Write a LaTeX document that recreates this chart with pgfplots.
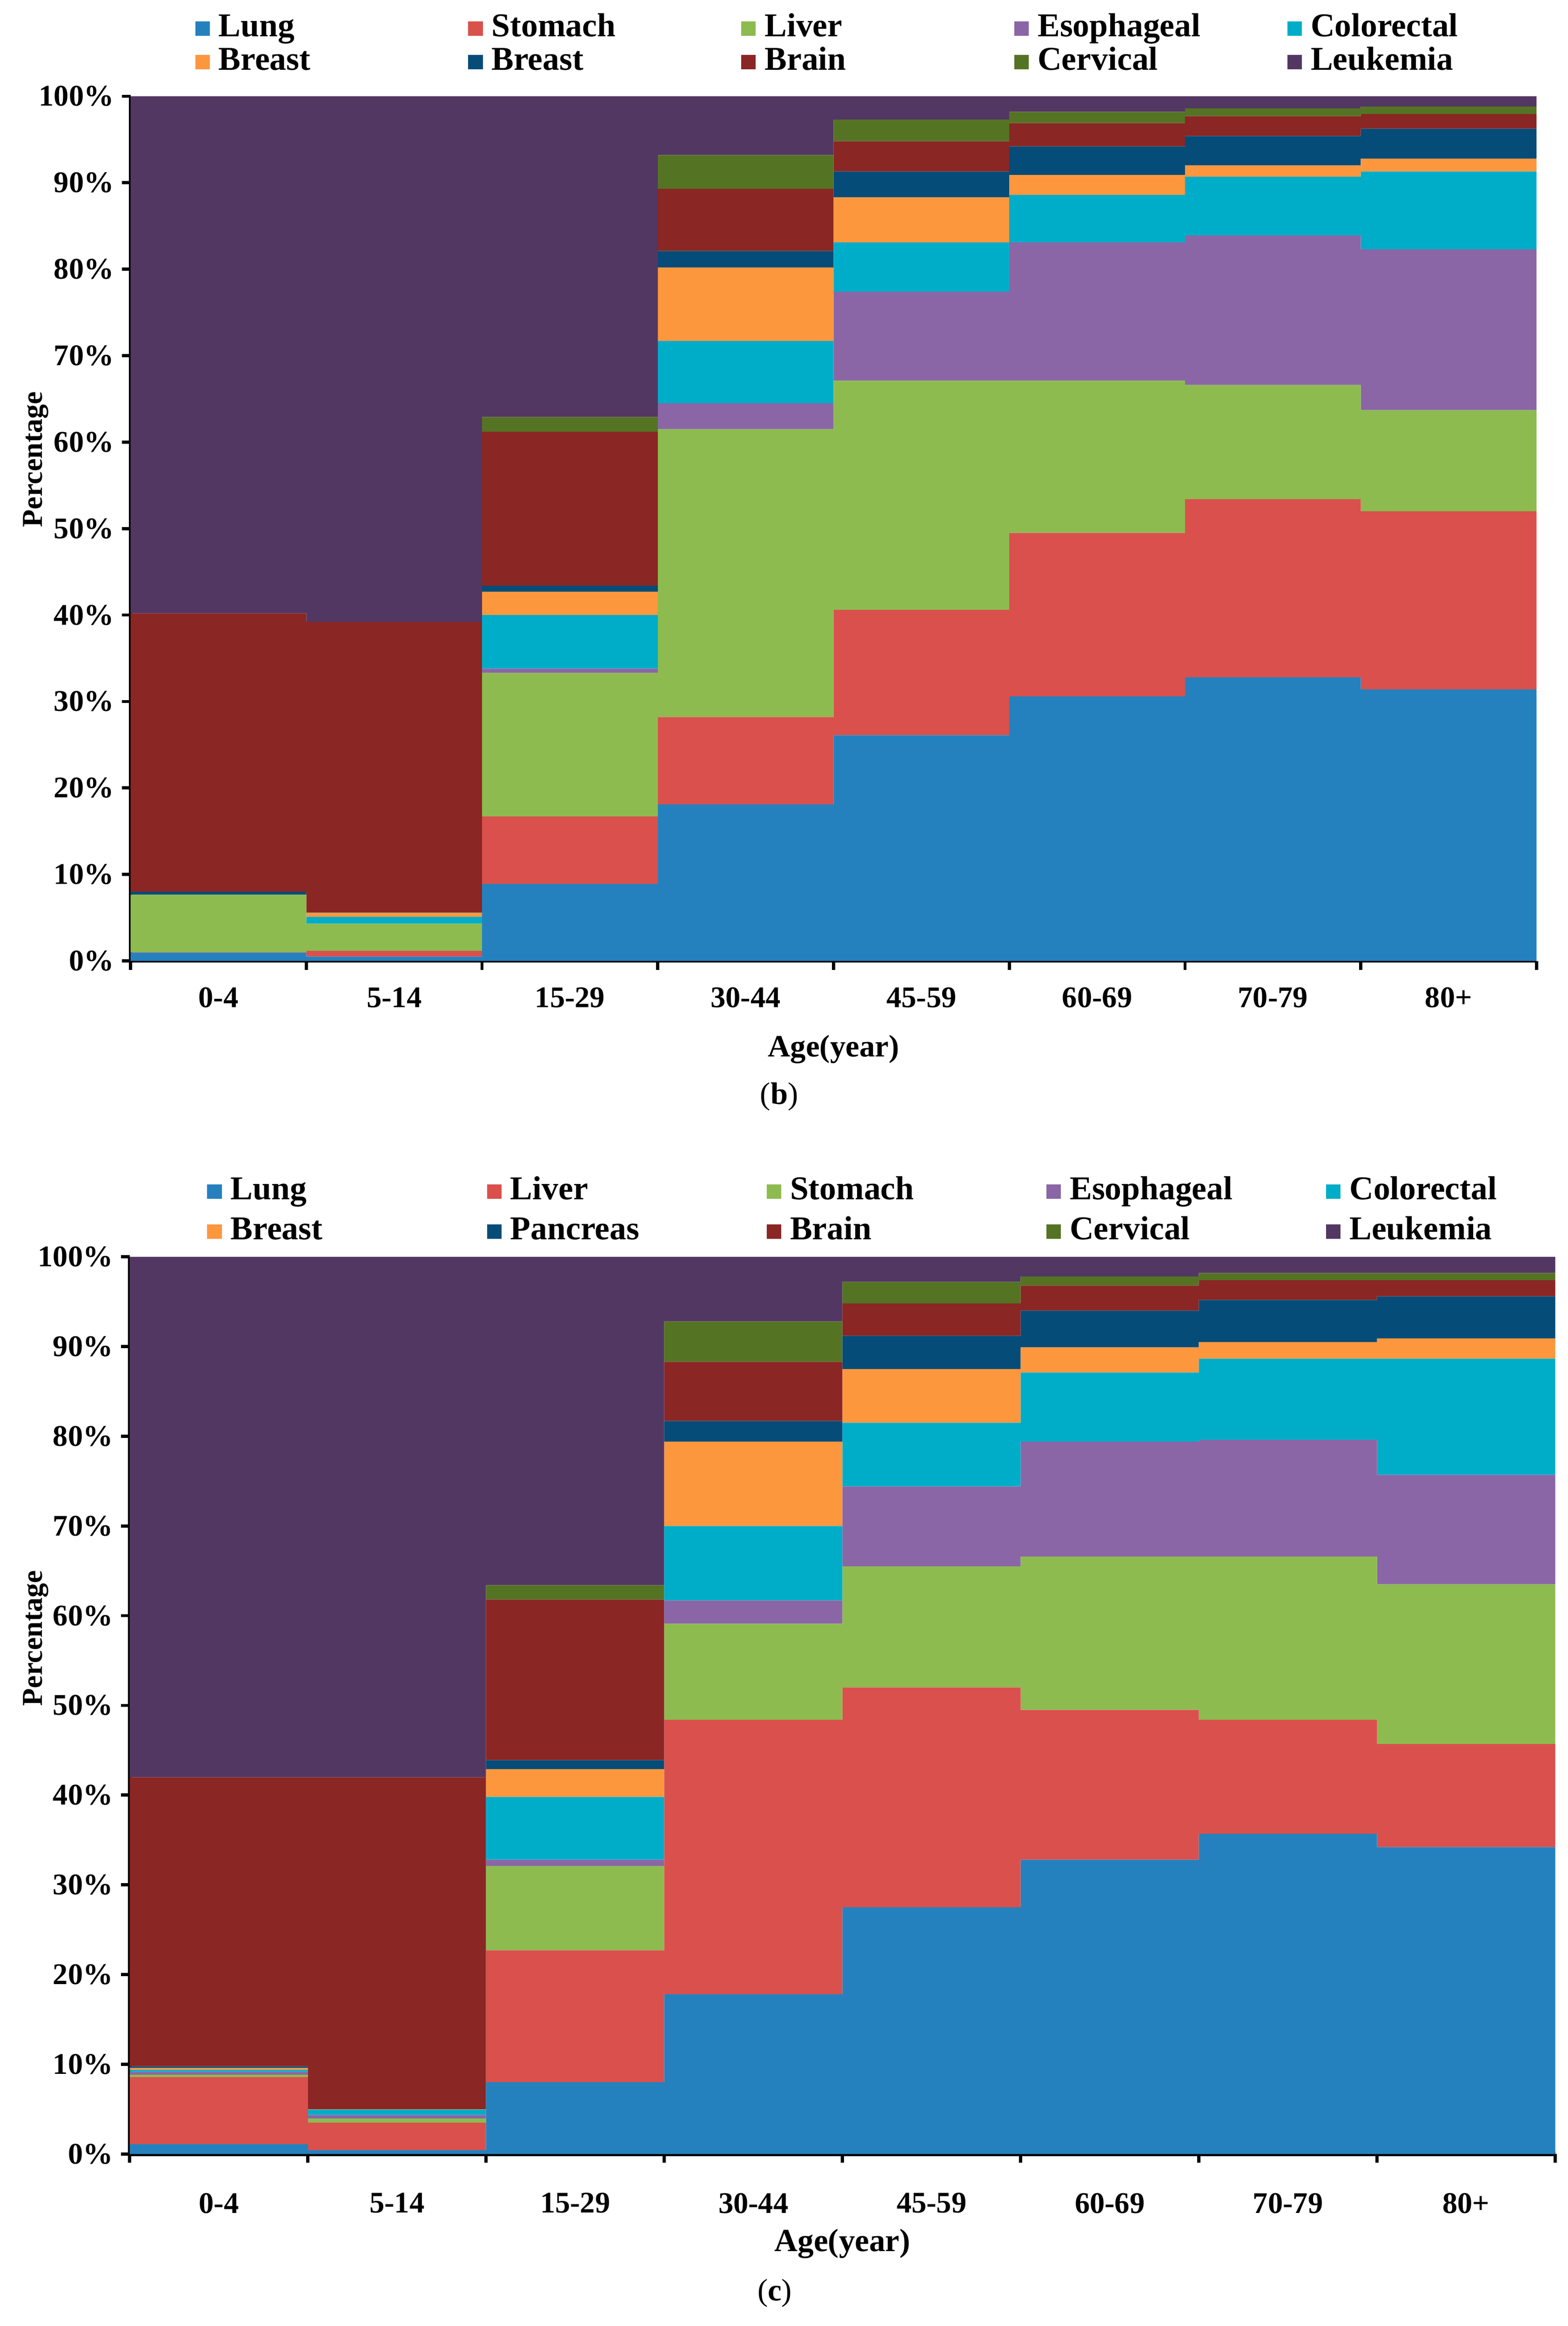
\documentclass[border=0pt]{standalone}
\usepackage{pgfplots}
\pgfplotsset{compat=1.18}
\usepackage{pgfplotstable}
\usepackage{fontspec}
\setmainfont{Liberation Serif}

\definecolor{cLung}{HTML}{2581BE}
\definecolor{cStom}{HTML}{DA504C}
\definecolor{cLiver}{HTML}{8DBB50}
\definecolor{cEso}{HTML}{8A66A6}
\definecolor{cCol}{HTML}{00ADC8}
\definecolor{cBre}{HTML}{FD973E}
\definecolor{cPan}{HTML}{064C78}
\definecolor{cBrain}{HTML}{8A2624}
\definecolor{cCer}{HTML}{547424}
\definecolor{cLeu}{HTML}{533763}

% panel (b): segment heights (%) per age group
\pgfplotstableread{
x    lung  stomach liver eso  col  breast breastb brain cerv leuk
0.5  0.96  0.04    6.65  0    0    0      0.35    32.2  0    59.8
1.5  0.50  0.67    3.13  0    0.8  0.47   0.03    33.6  0    60.8
2.5  8.9   7.8     16.6  0.5  6.2  2.7    0.7     17.8  1.7  37.1
3.5  18.1  10.1    33.3  3.0  7.2  8.5    1.9     7.2   3.9  6.8
4.5  26.1  14.5    26.5  10.3 5.7  5.2    3.0     3.5   2.5  2.7
5.5  30.6  18.9    17.6  16.0 5.5  2.3    3.3     2.7   1.3  1.8
6.5  32.8  20.6    13.2  17.3 6.8  1.3    3.4     2.3   0.9  1.4
7.5  31.4  20.6    11.7  18.6 9.0  1.5    3.45    1.7   0.85 1.2
}\tabB

% panel (c): segment heights (%) per age group
\pgfplotstableread{
x    lung  liver stomach eso  col   breast pancreas brain cerv leuk
0.5  1.09  7.49  0.25    0.33 0.22  0.22   0.18     32.22 0    58.0
1.5  0.42  3.08  0.46    0.39 0.58  0.04   0.03     37.0  0    58.0
2.5  8.0   14.7  9.4     0.7  7.0   3.1    1.0      17.9  1.6  36.6
3.5  17.8  30.6  10.7    2.6  8.3   9.4    2.3      6.6   4.5  7.2
4.5  27.5  24.5  13.5    8.9  7.1   6.0    3.7      3.6   2.4  2.8
5.5  32.8  16.7  17.1    12.8 7.7   2.8    4.1      2.8   1.0  2.2
6.5  35.7  12.7  18.2    13.0 9.05  1.85   4.7      2.2   0.8  1.8
7.5  34.2  11.5  17.8    12.2 12.95 2.25   4.7      1.8   0.8  1.8
}\tabC

\pgfplotsset{
  mystack/.style={
    scale only axis,
    ybar stacked, bar width=1,
    xmin=0, xmax=8, ymin=0, ymax=100,
    xtick={0,...,8}, x tick label as interval,
    xticklabels={0-4,5-14,15-29,30-44,45-59,60-69,70-79,80+},
    ytick={0,10,...,100},
    yticklabel={\pgfmathprintnumber{\tick}\%},
    /pgf/number format/assume math mode=true,
    axis x line*=bottom, axis y line*=left,
    axis line style={line width=1.4bp, black},
    tick align=outside, major tick length=4bp,
    tick style={line width=1.4bp, black},
    tick label style={font=\fontsize{13.5}{14}\selectfont\bfseries},
    xticklabel style={yshift=-4.5bp},
    every axis x label/.style={at={(rel axis cs:0.5,0)}, anchor=center, yshift=-39.6bp,
      font=\fontsize{14}{15}\selectfont\bfseries},
    every axis y label/.style={at={(rel axis cs:0,0.58)}, xshift=-42.6bp, rotate=90, anchor=center,
      font=\fontsize{13}{14}\selectfont\bfseries},
    xlabel={Age(year)}, ylabel={Percentage},
    legend columns=5, legend cell align=left,
    legend image code/.code={\fill[##1] (0bp,-3.2bp) rectangle (6.5bp,3.2bp);},
    every axis plot/.append style={draw=none},
  }
}

\begin{document}
\begin{tikzpicture}
\useasboundingbox (0,0) rectangle (703.4bp,-1043.8bp);

\begin{axis}[mystack,
  at={(58.6bp,-43.2bp)}, anchor=north west,
  width=630.8bp, height=388bp,
  legend style={draw=none, fill=none, at={(0,1)}, anchor=north west,
    xshift=28.8bp, yshift=37bp, inner sep=0pt,
    font=\fontsize{15}{15}\selectfont\bfseries, row sep=2bp,
    nodes={text height=10bp, text depth=3bp, inner sep=0pt},
    /tikz/every odd column/.append style={column sep=4bp}},
]
\addplot[fill=cLung] table[x=x,y=lung]{\tabB};
\addlegendentry{\makebox[112bp][l]{Lung}}
\addplot[fill=cStom] table[x=x,y=stomach]{\tabB};
\addlegendentry{\makebox[112bp][l]{Stomach}}
\addplot[fill=cLiver] table[x=x,y=liver]{\tabB};
\addlegendentry{\makebox[112bp][l]{Liver}}
\addplot[fill=cEso] table[x=x,y=eso]{\tabB};
\addlegendentry{\makebox[112bp][l]{Esophageal}}
\addplot[fill=cCol] table[x=x,y=col]{\tabB};
\addlegendentry{\makebox[112bp][l]{Colorectal}}
\addplot[fill=cBre] table[x=x,y=breast]{\tabB};
\addlegendentry{\makebox[112bp][l]{Breast}}
\addplot[fill=cPan] table[x=x,y=breastb]{\tabB};
\addlegendentry{\makebox[112bp][l]{Breast}}
\addplot[fill=cBrain] table[x=x,y=brain]{\tabB};
\addlegendentry{\makebox[112bp][l]{Brain}}
\addplot[fill=cCer] table[x=x,y=cerv]{\tabB};
\addlegendentry{\makebox[112bp][l]{Cervical}}
\addplot[fill=cLeu] table[x=x,y=leuk]{\tabB};
\addlegendentry{\makebox[112bp][l]{Leukemia}}
\end{axis}
\node[font=\fontsize{14}{15}\selectfont] at (349.6bp,-492.2bp) {(\textbf{b})};

\begin{axis}[mystack,
  at={(58.2bp,-564bp)}, anchor=north west,
  width=639.6bp, height=402.6bp,
  x axis line style={line width=2bp},
  xticklabel style={yshift=-5.5bp},
  legend style={draw=none, fill=none, at={(0,1)}, anchor=north west,
    xshift=34.6bp, yshift=36bp, inner sep=0pt,
    font=\fontsize{15}{15}\selectfont\bfseries, row sep=5bp,
    nodes={text height=10bp, text depth=3bp, inner sep=0pt},
    /tikz/every odd column/.append style={column sep=4bp}},
  every axis x label/.style={at={(rel axis cs:0.5,0)}, anchor=center, yshift=-40.3bp,
      font=\fontsize{14.5}{15}\selectfont\bfseries},
  every axis y label/.style={at={(rel axis cs:0,0.575)}, xshift=-42.2bp, rotate=90, anchor=center,
      font=\fontsize{13}{14}\selectfont\bfseries},
]
\addplot[fill=cLung] table[x=x,y=lung]{\tabC};
\addlegendentry{\makebox[115bp][l]{Lung}}
\addplot[fill=cStom] table[x=x,y=liver]{\tabC};
\addlegendentry{\makebox[115bp][l]{Liver}}
\addplot[fill=cLiver] table[x=x,y=stomach]{\tabC};
\addlegendentry{\makebox[115bp][l]{Stomach}}
\addplot[fill=cEso] table[x=x,y=eso]{\tabC};
\addlegendentry{\makebox[115bp][l]{Esophageal}}
\addplot[fill=cCol] table[x=x,y=col]{\tabC};
\addlegendentry{\makebox[115bp][l]{Colorectal}}
\addplot[fill=cBre] table[x=x,y=breast]{\tabC};
\addlegendentry{\makebox[115bp][l]{Breast}}
\addplot[fill=cPan] table[x=x,y=pancreas]{\tabC};
\addlegendentry{\makebox[115bp][l]{Pancreas}}
\addplot[fill=cBrain] table[x=x,y=brain]{\tabC};
\addlegendentry{\makebox[115bp][l]{Brain}}
\addplot[fill=cCer] table[x=x,y=cerv]{\tabC};
\addlegendentry{\makebox[115bp][l]{Cervical}}
\addplot[fill=cLeu] table[x=x,y=leuk]{\tabC};
\addlegendentry{\makebox[115bp][l]{Leukemia}}
\end{axis}
\node[font=\fontsize{14}{15}\selectfont] at (347.6bp,-1029bp) {(\textbf{c})};
\end{tikzpicture}
\end{document}
